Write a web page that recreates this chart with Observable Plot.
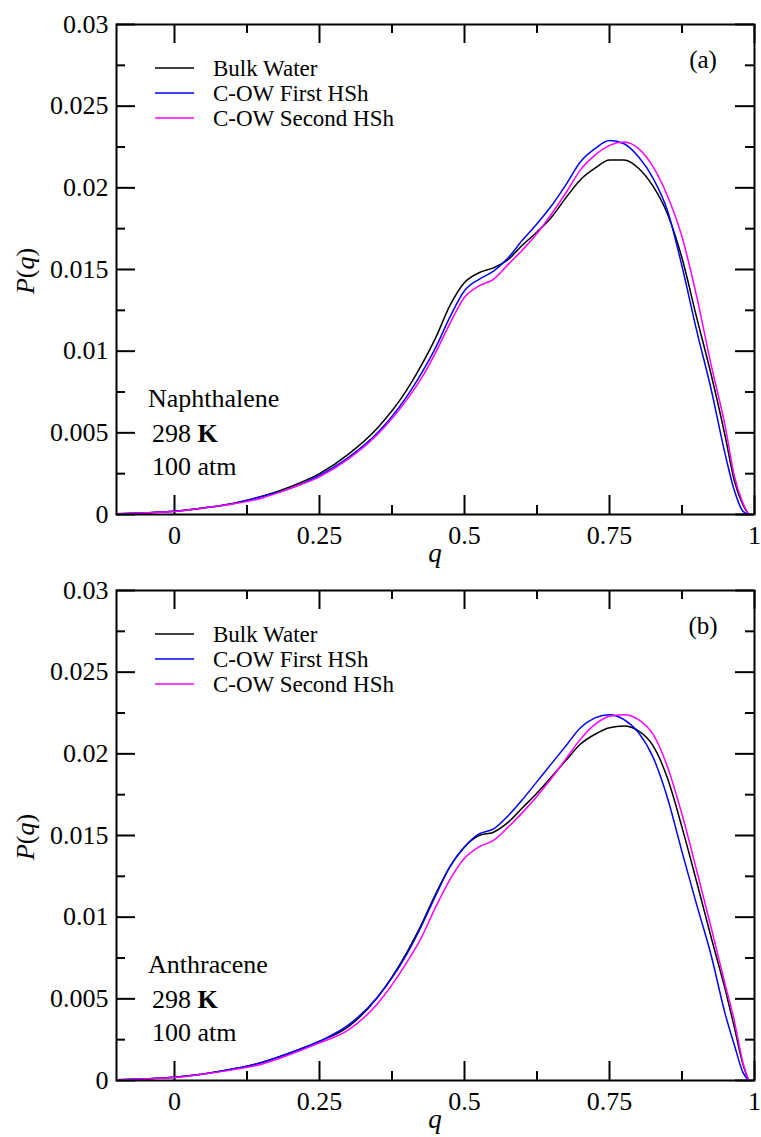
<!DOCTYPE html>
<html><head><meta charset="utf-8">
<script src="https://cdn.jsdelivr.net/npm/d3@7"></script>
<script src="https://cdn.jsdelivr.net/npm/@observablehq/plot@0.6"></script>
<style>body{margin:0;background:#fff} svg{display:block} svg text{font-family:'Liberation Serif','Times New Roman',serif !important}</style>
</head><body><div id="chart"></div>
<script>
const qGrid = [-0.1,-0.05,0,0.05,0.1,0.15,0.2,0.25,0.3,0.35,0.4,0.425,0.45,0.475,0.5,0.525,0.55,0.575,0.6,0.625,0.65,0.675,0.7,0.725,0.75,0.775,0.8,0.825,0.85,0.875,0.9,0.925,0.95,0.965,0.98,0.99];

const seriesNames = ["Bulk Water", "C-OW First HSh", "C-OW Second HSh"];
const seriesColors = ["#000000", "#0000ff", "#ff00ff"];

// Panel (a) Naphthalene
const naphBulk   = [0.00004,0.0001,0.0002,0.0004,0.00068,0.0011,0.0017,0.0025,0.0037,0.0053,0.0076,0.0091,0.0108,0.0128,0.0142,0.0148,0.0151,0.0156,0.0165,0.0173,0.0182,0.0194,0.0205,0.0212,0.0217,0.0217,0.0212,0.0201,0.0184,0.0157,0.0121,0.0086,0.0047,0.0021,0.0006,0];
const naphFirst  = [0.00004,0.0001,0.0002,0.0004,0.00066,0.0011,0.0016,0.0024,0.0035,0.0050,0.0072,0.0086,0.0102,0.0121,0.0137,0.0144,0.0149,0.0157,0.0168,0.0178,0.0189,0.0202,0.0216,0.0224,0.0229,0.0227,0.0219,0.0206,0.0186,0.0152,0.0113,0.0077,0.0036,0.0015,0.0002,0];
const naphSecond = [0.00003,0.0001,0.00018,0.0004,0.00064,0.001,0.0016,0.0023,0.0034,0.0049,0.0070,0.0083,0.0099,0.0117,0.0133,0.0140,0.0144,0.0153,0.0162,0.0172,0.0184,0.0197,0.0211,0.0220,0.0226,0.0228,0.0224,0.0213,0.0195,0.0170,0.0134,0.0092,0.0053,0.0024,0.0007,0];

// Panel (b) Anthracene
const anthBulk   = [0.00004,0.0001,0.0002,0.0004,0.0007,0.0011,0.0017,0.0024,0.0033,0.0051,0.0078,0.0095,0.0114,0.0131,0.0143,0.0150,0.0152,0.0158,0.0167,0.0176,0.0186,0.0196,0.0206,0.0212,0.0216,0.0217,0.0214,0.0205,0.0185,0.0155,0.0122,0.0088,0.0055,0.0033,0.0010,0];
const anthFirst  = [0.00004,0.0001,0.0002,0.0004,0.0007,0.0011,0.0017,0.0024,0.0034,0.0051,0.0077,0.0094,0.0113,0.0131,0.0143,0.0151,0.0154,0.0162,0.0172,0.0183,0.0194,0.0205,0.0216,0.0222,0.0224,0.0221,0.0213,0.0198,0.0173,0.0140,0.0108,0.0077,0.0040,0.0022,0.0005,0];
const anthSecond = [0.00003,0.0001,0.00018,0.0004,0.00065,0.001,0.0016,0.0023,0.0031,0.0047,0.0072,0.0087,0.0106,0.0123,0.0136,0.0143,0.0147,0.0155,0.0164,0.0174,0.0185,0.0197,0.0209,0.0218,0.0223,0.0224,0.0221,0.0212,0.0192,0.0163,0.0129,0.0094,0.0058,0.0037,0.0011,0];

const xTicks = [0, 0.25, 0.5, 0.75, 1];
const xTickLabels = ["0", "0.25", "0.5", "0.75", "1"];
const xMinor = [0.125, 0.375, 0.625, 0.875];
const yTicks = [0, 0.005, 0.01, 0.015, 0.02, 0.025, 0.03];
const yTickLabels = ["0", "0.005", "0.01", "0.015", "0.02", "0.025", "0.03"];
const yMinor = [0.0025, 0.0075, 0.0125, 0.0175, 0.0225, 0.0275];

const panels = [
  {tag: "(a)", solute: "Naphthalene", temp: "298", unit: "K", pres: "100 atm", series: [naphBulk, naphFirst, naphSecond], height: 574, top: 24, bottom: 60},
  {tag: "(b)", solute: "Anthracene",  temp: "298", unit: "K", pres: "100 atm", series: [anthBulk, anthFirst, anthSecond], height: 563, top: 16, bottom: 57}
];

const W = 761, ML = 116, MR = 7;
const FW = W - ML - MR, FH = 490;
const MAJ = 19, MIN = 9;
const FONT = "Liberation Serif";

function makePanel(p) {
  const rows = [];
  p.series.forEach((vals, s) => vals.forEach((v, i) => rows.push({q: qGrid[i], p: v, series: seriesNames[s]})));
  const tk = {stroke: "black", strokeWidth: 2};
  const chart = Plot.plot({
    width: W, height: p.height,
    marginLeft: ML, marginRight: MR, marginTop: p.top, marginBottom: p.bottom,
    style: `font-family: '${FONT}', serif; font-size: 26px; color: black; background: white;`,
    x: {domain: [-0.1, 1]},
    y: {domain: [0, 0.03]},
    color: {domain: seriesNames, range: seriesColors},
    marks: [
      Plot.ruleX(xTicks, {x: d => d, insetTop: FH - MAJ, ...tk}),
      Plot.ruleX(xTicks, {x: d => d, insetBottom: FH - MAJ, ...tk}),
      Plot.ruleX(xMinor, {x: d => d, insetTop: FH - MIN, ...tk}),
      Plot.ruleX(xMinor, {x: d => d, insetBottom: FH - MIN, ...tk}),
      Plot.ruleY(yTicks, {y: d => d, insetRight: FW - MAJ, ...tk}),
      Plot.ruleY(yTicks, {y: d => d, insetLeft: FW - MAJ, ...tk}),
      Plot.ruleY(yMinor, {y: d => d, insetRight: FW - MIN, ...tk}),
      Plot.ruleY(yMinor, {y: d => d, insetLeft: FW - MIN, ...tk}),
      Plot.line(rows, {x: "q", y: "p", z: "series", stroke: "series", strokeWidth: 1.5, curve: "monotone-x"}),
      Plot.frame({stroke: "black", strokeWidth: 2}),
      Plot.axisX({ticks: xTicks, tickSize: 0, tickPadding: 11, fontSize: 26, fontFamily: FONT, label: null,
        tickFormat: d => xTickLabels[xTicks.indexOf(d)]}),
      Plot.axisY({ticks: yTicks, tickSize: 0, tickPadding: 8, fontSize: 26, fontFamily: FONT, label: null,
        tickFormat: d => yTickLabels[yTicks.indexOf(d)]})
    ]
  });

  const svg = d3.select(chart);
  svg.attr("font-family", FONT);
  svg.selectAll("text").attr("font-family", FONT);
  const T = p.top;
  const g = svg.append("g").attr("font-family", FONT).attr("fill", "black").attr("text-anchor", "start");
  // legend
  seriesNames.forEach((name, i) => {
    g.append("line").attr("x1", 155).attr("x2", 194)
      .attr("y1", T + 44 + 25 * i).attr("y2", T + 44 + 25 * i)
      .attr("stroke", seriesColors[i]).attr("stroke-width", 1.5);
    g.append("text").attr("x", 213).attr("y", T + 52 + 25 * i)
      .attr("font-size", 23).text(name);
  });
  // panel tag
  g.append("text").attr("x", 703).attr("y", T + 44).attr("text-anchor", "middle")
    .attr("font-size", 25).text(p.tag);
  // annotation
  g.append("text").attr("x", 148).attr("y", T + 383).attr("font-size", 26).text(p.solute);
  const t2 = g.append("text").attr("x", 152).attr("y", T + 418).attr("font-size", 26);
  t2.append("tspan").text(p.temp + " ");
  t2.append("tspan").attr("font-weight", "bold").text(p.unit);
  g.append("text").attr("x", 152).attr("y", T + 451).attr("font-size", 26).text(p.pres);
  // y label
  const yl = g.append("text").attr("transform", `translate(34,${T + 247}) rotate(-90)`)
    .attr("text-anchor", "middle").attr("font-size", 26);
  yl.append("tspan").attr("font-style", "italic").text("P");
  yl.append("tspan").text("(");
  yl.append("tspan").attr("font-style", "italic").text("q");
  yl.append("tspan").text(")");
  // x label
  g.append("text").attr("x", ML + FW / 2).attr("y", T + 538).attr("text-anchor", "middle")
    .attr("font-size", 27).attr("font-style", "italic").text("q");
  return chart;
}

const root = document.getElementById("chart");
panels.forEach(p => root.appendChild(makePanel(p)));
</script>
</body></html>
